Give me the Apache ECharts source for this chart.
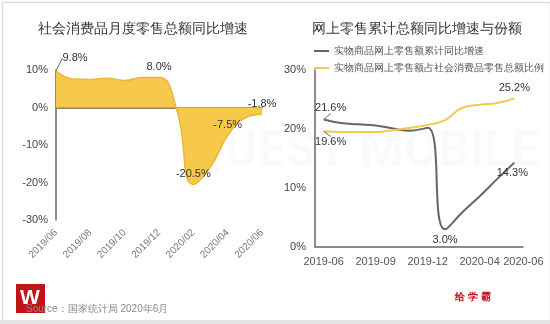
<!DOCTYPE html>
<html><head><meta charset="utf-8">
<script src="https://cdn.jsdelivr.net/npm/echarts@6/dist/echarts.min.js"></script>
<style>html,body{margin:0;padding:0;background:#fff}#c{width:550px;height:324px}</style>
</head><body><div id="c"></div>
<script>
// Left chart: monthly YoY growth of total retail sales
const monthsL = ['2019/06','2019/07','2019/08','2019/09','2019/10','2019/11','2019/12','2020/01','2020/02','2020/03','2020/04','2020/05','2020/06'];
const retailYoY = [9.8, 7.6, 7.5, 7.8, 7.2, 8.0, 8.0, 0.0, -20.5, -15.8, -7.5, -2.8, -1.8];
const labeledL = [0, 6, 8, 10, 12];
const yTicksL = [-30, -20, -10, 0, 10];

// Right chart: online retail cumulative growth and share
const monthsR = ['2019-06','2019-07','2019-08','2019-09','2019-10','2019-11','2019-12','2020-02','2020-03','2020-04','2020-05','2020-06'];
const onlineGrowth = [21.6, 21.0, 20.8, 20.6, 20.1, 19.7, 20.2, 3.0, 5.9, 8.6, 11.5, 14.3];
const onlineShare = [19.6, 19.5, 19.5, 19.5, 19.8, 20.2, 20.7, 21.5, 23.6, 24.1, 24.4, 25.2];
const labeledGrowth = [0, 7, 11];
const labeledShare = [0, 11];
const yTicksR = [0, 10, 20, 30];

const nameGrowth = '实物商品网上零售额累计同比增速';
const nameShare = '实物商品网上零售额占社会消费品零售总额比例';

const lblStyle = {show: true, fontSize: 11, color: '#333', formatter: p => Number(p.value).toFixed(1) + '%'};

function build(vals, idxs, posFn, lineIdx) {
  return vals.map((v, i) => {
    if (idxs.indexOf(i) < 0) return v;
    const o = {value: v, label: Object.assign({}, lblStyle, {position: posFn(i)})};
    if (lineIdx.indexOf(i) >= 0) o.labelLine = {show: true, lineStyle: {color: '#666', width: 1}};
    return o;
  });
}

const chart = echarts.init(document.getElementById('c'));
chart.setOption({
  animation: false,
  backgroundColor: '#fff',
  title: [
    {text: '社会消费品月度零售总额同比增速', left: 138, top: 17, textAlign: 'center',
     textStyle: {fontSize: 14, fontWeight: 'normal', color: '#333'}},
    {text: '网上零售累计总额同比增速与份额', left: 412, top: 17, textAlign: 'center',
     textStyle: {fontSize: 14, fontWeight: 'normal', color: '#333'}}
  ],
  legend: {
    orient: 'vertical', left: 309, top: 41, itemGap: 7, itemWidth: 15, itemHeight: 2,
    icon: 'rect', textStyle: {fontSize: 10, color: '#555'},
    data: [nameGrowth, nameShare]
  },
  grid: [
    {left: 56, right: 288, top: 70, bottom: 104},
    {left: 315, right: 27, top: 70, bottom: 77}
  ],
  xAxis: [
    {type: 'category', gridIndex: 0, data: monthsL, boundaryGap: false,
     axisLine: {onZero: true, lineStyle: {color: '#9a8352', width: 2}},
     axisTick: {show: false},
     axisLabel: {interval: 1, rotate: 45, fontSize: 10, color: '#777', margin: 11}},
    {type: 'category', gridIndex: 1, data: monthsR, boundaryGap: true,
     axisLine: {lineStyle: {color: '#666', width: 1.5}},
     axisTick: {show: false},
     axisLabel: {fontSize: 11, color: '#555', margin: 9,
       interval: (i) => i % 3 === 0 || i === monthsR.length - 1,
       formatter: (v, i) => i === monthsR.length - 1 ? '{last|' + v + '}' : v,
       rich: {last: {fontSize: 11, color: '#555', padding: [0, 0, 0, 18]}}}}
  ],
  yAxis: [
    {type: 'value', gridIndex: 0, min: yTicksL[0], max: yTicksL[yTicksL.length - 1], interval: 10,
     axisLine: {show: true, lineStyle: {color: '#666', width: 1.5}},
     axisTick: {show: false}, splitLine: {show: false},
     axisLabel: {formatter: '{value}%', fontSize: 11, color: '#444', margin: 8}},
    {type: 'value', gridIndex: 1, min: yTicksR[0], max: yTicksR[yTicksR.length - 1], interval: 10,
     axisLine: {show: true, lineStyle: {color: '#666', width: 1.5}},
     axisTick: {show: false}, splitLine: {show: false},
     axisLabel: {formatter: '{value}%', fontSize: 11, color: '#444', margin: 9}}
  ],
  graphic: [
    {type: 'text', left: 190, top: 128, z: -1, silent: true,
     style: {text: 'QUEST MOBILE', fontSize: 50, fontWeight: 'bold', fill: 'rgba(0,0,0,0.018)', fontFamily: 'Roboto'}},
    {type: 'rect', left: 0, top: 0, z: 100, silent: true,
     shape: {x: 0.5, y: 0.5, width: 548, height: 320},
     style: {fill: 'none', stroke: '#ddd', lineWidth: 1.5}},
    {type: 'rect', left: 0, top: 320, z: 100, silent: true,
     shape: {width: 550, height: 4}, style: {fill: '#e4e4e4'}},
    {type: 'text', left: 26, top: 304, z: 10,
     style: {text: 'Source：国家统计局 2020年6月', fontSize: 10, fill: '#888'}},
    {type: 'group', left: 16, top: 284, z: 20, children: [
      {type: 'rect', shape: {width: 29, height: 29}, style: {fill: '#c0141b'}},
      {type: 'text', left: 4, top: 4, style: {text: 'W', fontSize: 21, fontWeight: 'bold', fill: '#fff'}}
    ]},
    {type: 'text', left: 455, top: 292,
     style: {text: '给 学 霸', fontSize: 10, fontWeight: 'bold', fill: '#c8161d'}}
  ],
  series: [
    {type: 'line', xAxisIndex: 0, yAxisIndex: 0, smooth: true, symbol: 'circle', symbolSize: 0.1,
     itemStyle: {color: '#eab733'},
     lineStyle: {color: '#eab733', width: 1.5},
     areaStyle: {color: '#f6c94c', opacity: 1},
     data: build(retailYoY, labeledL, () => 'top', [0]),
     labelLayout: p => p.dataIndex === 0 ? {dx: 19, dy: -2} : {}
    },
    {name: nameGrowth, type: 'line', xAxisIndex: 1, yAxisIndex: 1, smooth: true, symbol: 'circle', symbolSize: 0.1,
     itemStyle: {color: '#666'}, lineStyle: {color: '#666', width: 2},
     data: build(onlineGrowth, labeledGrowth, i => i === 0 ? 'top' : 'bottom', [0]),
     labelLayout: p => p.dataIndex === 0 ? {dx: 7, dy: -1} : (p.dataIndex === onlineGrowth.length - 1 ? {dx: -2, dy: 0} : {})
    },
    {name: nameShare, type: 'line', xAxisIndex: 1, yAxisIndex: 1, smooth: true, symbol: 'circle', symbolSize: 0.1,
     itemStyle: {color: '#f2c94c'}, lineStyle: {color: '#f2c94c', width: 2},
     data: build(onlineShare, labeledShare, i => i === 0 ? 'bottom' : 'top', [0]),
     labelLayout: p => p.dataIndex === 0 ? {dx: 7, dy: 0} : {}
    }
  ]
});
</script></body></html>
